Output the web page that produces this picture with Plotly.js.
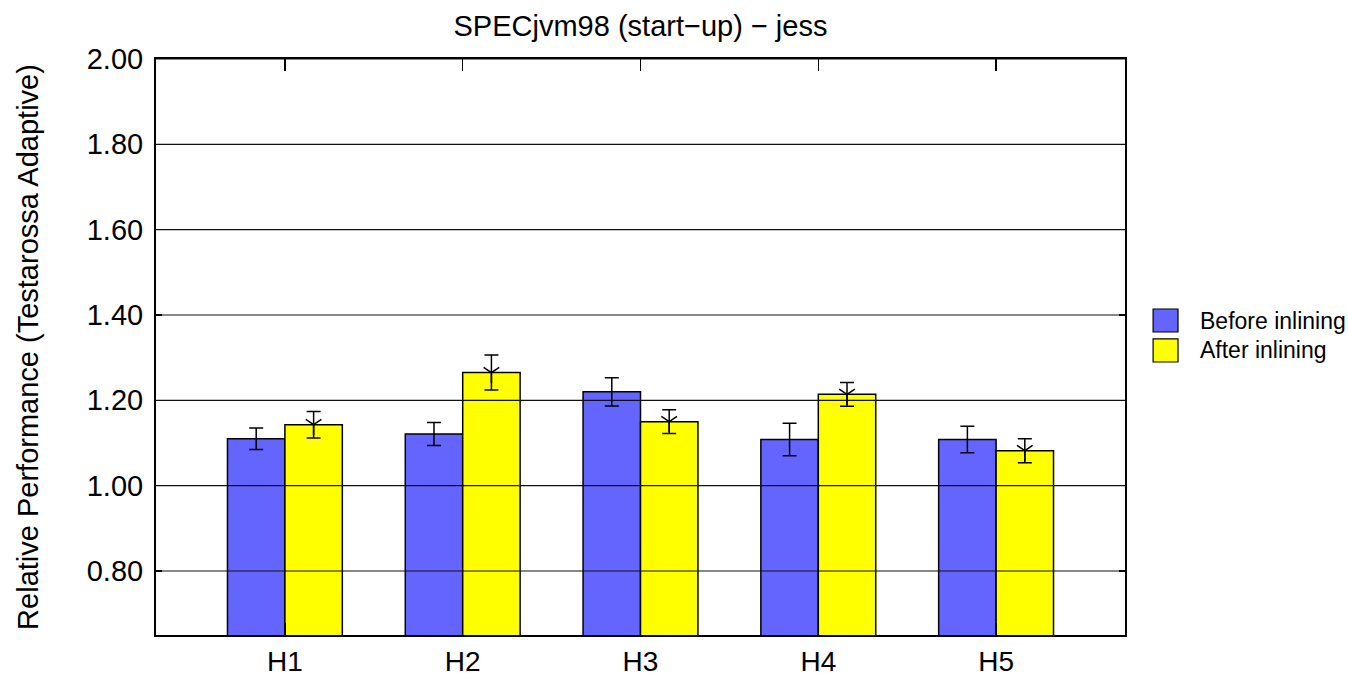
<!DOCTYPE html>
<html>
<head>
<meta charset="utf-8">
<script src="https://cdn.plot.ly/plotly-3.0.1.min.js"></script>
<style>html,body{margin:0;padding:0;background:#fff;}#chart{width:1348px;height:677px;}</style>
</head>
<body>
<div id="chart"></div>
<script>
const categories = ["H1", "H2", "H3", "H4", "H5"];
const seriesNames = ["Before inlining", "After inlining"];
const beforeValues = [1.110, 1.121, 1.220, 1.108, 1.108];
const beforeErrors = [0.025, 0.027, 0.033, 0.038, 0.031];
const afterValues = [1.143, 1.265, 1.150, 1.214, 1.082];
const afterErrors = [0.031, 0.041, 0.028, 0.028, 0.028];
const yTickVals = [0.8, 1.0, 1.2, 1.4, 1.6, 1.8, 2.0];
const colors = ["#6464ff", "#ffff00"];

const barWidth = 0.323;
const xIdx = categories.map((c, i) => i);
const FONT = "Liberation Sans, Arial, Helvetica, sans-serif";

const traces = [
  {
    type: "bar", name: seriesNames[0], x: xIdx, y: beforeValues,
    width: barWidth, offset: -barWidth,
    marker: {color: colors[0], line: {color: "#000", width: 1.5}},
    error_y: {type: "data", array: beforeErrors, visible: true, color: "#000", thickness: 1.5, width: 7},
    showlegend: false
  },
  {
    type: "bar", name: seriesNames[1], x: xIdx, y: afterValues,
    width: barWidth, offset: 0,
    marker: {color: colors[1], line: {color: "#000", width: 1.5}},
    error_y: {type: "data", array: afterErrors, visible: true, color: "#000", thickness: 1.5, width: 7},
    showlegend: false
  },
  {
    type: "scatter", mode: "markers", x: xIdx.map(i => i + barWidth / 2), y: afterValues,
    marker: {symbol: "y-down-open", size: 13, color: "#000", line: {color: "#000", width: 1.5}},
    showlegend: false, hoverinfo: "skip"
  }
];

const shapes = yTickVals.map(v => ({
  type: "line", xref: "paper", x0: 0, x1: 1, yref: "y", y0: v, y1: v,
  line: {color: "#111", width: 1.2}, layer: "above"
}));

// custom legend (boxes + labels)
const annotations = [];
seriesNames.forEach((name, k) => {
  const yTop = 0.566 - k * 0.052;
  shapes.push({
    type: "rect", xref: "paper", yref: "paper",
    x0: 1.029, x1: 1.0547, y0: yTop - 0.040, y1: yTop,
    fillcolor: colors[k], line: {color: "#000", width: 1.2}
  });
  annotations.push({
    xref: "paper", yref: "paper", x: 1.0753, y: yTop - 0.020,
    xanchor: "left", yanchor: "middle", showarrow: false,
    text: name, font: {family: FONT, size: 23, color: "#000"}
  });
});

const layout = {
  width: 1348, height: 677,
  margin: {l: 156, r: 223, t: 59, b: 42},
  paper_bgcolor: "#fff", plot_bgcolor: "#fff",
  font: {family: FONT, color: "#000"},
  title: {
    text: "SPECjvm98 (start\u2212up) \u2212 jess",
    font: {family: FONT, size: 29, color: "#000"},
    xref: "paper", x: 0.5, xanchor: "center",
    yref: "container", y: 0.962, yanchor: "middle"
  },
  xaxis: {
    type: "linear", range: [-0.725, 4.725],
    tickvals: xIdx, ticktext: categories,
    ticks: "inside", ticklen: 12, tickwidth: 1.5, tickcolor: "#000",
    showline: true, linecolor: "#000", linewidth: 2, mirror: "allticks",
    showgrid: false, zeroline: false,
    tickfont: {family: FONT, size: 28, color: "#000"},
    ticklabelstandoff: 0
  },
  yaxis: {
    range: [0.65, 2.0],
    tickvals: yTickVals, ticktext: yTickVals.map(v => v.toFixed(2)),
    ticks: "inside", ticklen: 6, tickwidth: 1.5, tickcolor: "#000",
    showline: true, linecolor: "#000", linewidth: 2, mirror: "allticks",
    showgrid: false, zeroline: false,
    tickfont: {family: FONT, size: 29, color: "#000"},
    ticklabelstandoff: 5,
    title: {text: "Relative Performance (Testarossa Adaptive)", font: {family: FONT, size: 29, color: "#000"}, standoff: 40}
  },
  shapes: shapes,
  annotations: annotations,
  showlegend: false,
  bargap: 0.354, bargroupgap: 0
};

Plotly.newPlot("chart", traces, layout, {displayModeBar: false, staticPlot: true});
</script>
</body>
</html>
